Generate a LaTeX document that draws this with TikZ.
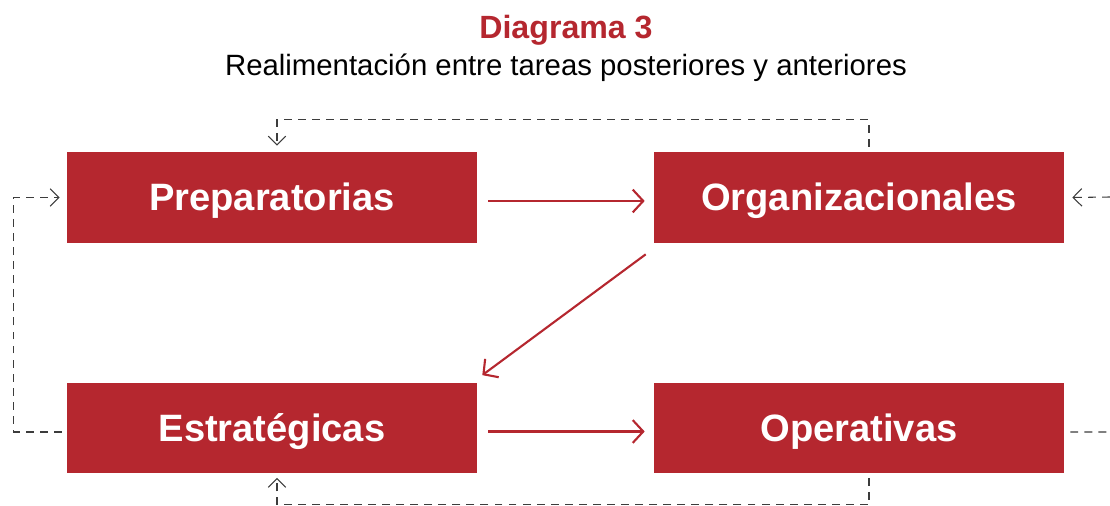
\documentclass[tikz,border=0pt]{standalone}
\usepackage{fontspec}
\setmainfont{Liberation Sans}
\usetikzlibrary{arrows.meta}
\definecolor{rojo}{HTML}{B5272F}
\definecolor{gris}{HTML}{3C3C3C}
\tikzset{
  tarea/.style={fill=rojo, minimum width=8.2cm, minimum height=1.82cm, inner sep=0pt,
    text height=15pt, text depth=0pt,
    text=white, font=\fontsize{21.7}{24}\selectfont\bfseries},
  flujo/.style={draw=rojo, line width=1.2pt, -{Straight Barb[length=6pt,width=13pt]}},
  retro/.style={draw=gris, line width=0.6pt, dash pattern=on 4.5pt off 3.5pt,
    -{Straight Barb[length=5pt,width=10pt]}}
}
\begin{document}
\begin{tikzpicture}[x=0.02cm,y=-0.02cm]
\useasboundingbox (0,0) rectangle (1110,506);

\node[text=rojo, font=\fontsize{18.3}{21}\selectfont\bfseries] (titulo) at (566,30) {Diagrama 3};
\node[font=\fontsize{16.7}{19}\selectfont] (subtitulo) at (566,68) {Realimentación entre tareas posteriores y anteriores};

\node[tarea] (prep) at (272,197.5) {Preparatorias};
\node[tarea] (orga) at (859,197.5) {Organizacionales};
\node[tarea] (estr) at (272,428) {Estratégicas};
\node[tarea] (oper) at (859,428) {Operativas};

\coordinate (borde1) at (1110,197);
\coordinate (borde2) at (1110,432);

% flujo principal
\draw[flujo] ([xshift=0.22cm,yshift=-0.07cm]prep.east) -- ([xshift=-0.18cm,yshift=-0.07cm]orga.west);
\draw[flujo] ([shift={(-0.16cm,-0.22cm)}]orga.south west) -- ([shift={(0.1cm,0.14cm)}]estr.north east);
\draw[flujo] ([xshift=0.22cm,yshift=-0.07cm]estr.east) -- ([xshift=-0.18cm,yshift=-0.07cm]oper.west);

% realimentacion
\draw[retro] ([xshift=0.2cm,yshift=0.1cm]orga.north) -- ++(0,-27) -| ([xshift=0.1cm,yshift=0.12cm]prep.north);
\draw[retro] ([xshift=-0.1cm,yshift=-0.08cm]estr.west) -- ++(-48,0) |- ([xshift=-0.14cm]prep.west);
\draw[retro] (borde1) -- ([xshift=0.16cm]orga.east);
\draw[retro,-] ([xshift=0.12cm,yshift=-0.08cm]oper.east) -- (borde2);
\draw[retro] ([xshift=0.2cm,yshift=-0.08cm]oper.south) -- ++(0,27) -| ([xshift=0.1cm,yshift=-0.08cm]estr.south);
\end{tikzpicture}
\end{document}
